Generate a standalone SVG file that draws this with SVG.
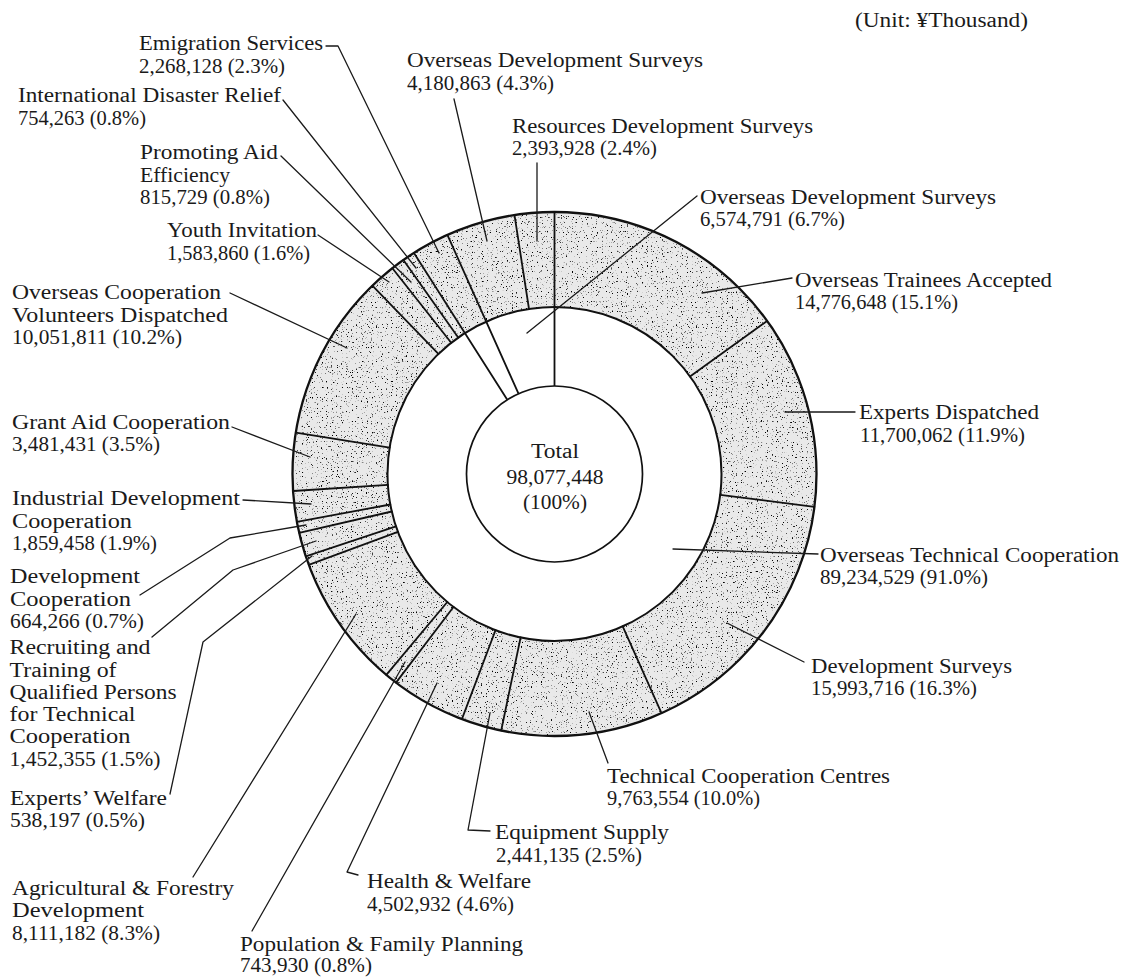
<svg xmlns="http://www.w3.org/2000/svg" width="1125" height="977" viewBox="0 0 1125 977">
<defs>
<style>
.t{font-family:"Liberation Serif","Times New Roman",serif;font-size:20px;fill:#1a1a1a}
.c{text-anchor:middle}
.ld{fill:none;stroke:#1a1a1a;stroke-width:1.3;stroke-linejoin:round;stroke-linecap:round}
.bd{stroke:#111;stroke-width:1.8;stroke-linecap:round}
.edge{fill:none;stroke:#111}
</style>
<!-- speckled screen for the outer ring -->
<filter id="grain" filterUnits="userSpaceOnUse" x="285" y="205" width="540" height="540">
<feTurbulence type="fractalNoise" baseFrequency="0.8" numOctaves="1" seed="7"/>
<feColorMatrix type="matrix" values="0 0 0 0 0  0 0 0 0 0  0 0 0 0 0  10 0 0 0 -6.3"/>
<feComposite in2="SourceAlpha" operator="in"/>
</filter>
</defs>
<rect width="1125" height="977" fill="#fff"/>

<!-- donut: outer ring (itemised budget), inner ring (main headings), centre total -->
<g id="ring">
<path d="M292.5 474A262 262 0 1 0 816.5 474A262 262 0 1 0 292.5 474ZM387.5 474A167 167 0 1 0 721.5 474A167 167 0 1 0 387.5 474Z" fill="#e9e9e9" fill-rule="evenodd"/>
<path d="M292.5 474A262 262 0 1 0 816.5 474A262 262 0 1 0 292.5 474ZM387.5 474A167 167 0 1 0 721.5 474A167 167 0 1 0 387.5 474Z" fill="#222" fill-rule="evenodd" filter="url(#grain)"/>
<circle class="edge" cx="554.5" cy="474" r="262" stroke-width="2.3"/>
<circle class="edge" cx="554.5" cy="474" r="167" stroke-width="2"/>
<!-- segment dividers -->
<g class="bd">
<line x1="554.5" y1="386" x2="554.5" y2="212"/>
<line x1="690.0" y1="376.4" x2="767.1" y2="320.9"/>
<line x1="720.2" y1="494.9" x2="814.4" y2="506.8"/>
<line x1="622.7" y1="626.4" x2="661.5" y2="713.1"/>
<line x1="520.6" y1="637.5" x2="501.2" y2="730.5"/>
<line x1="495.5" y1="630.2" x2="461.9" y2="719.1"/>
<line x1="453.5" y1="607.0" x2="396.0" y2="682.6"/>
<line x1="447.3" y1="602.0" x2="386.3" y2="674.9"/>
<line x1="397.9" y1="531.9" x2="308.7" y2="564.8"/>
<line x1="396.0" y1="526.4" x2="305.8" y2="556.3"/>
<line x1="391.8" y1="511.5" x2="299.2" y2="532.8"/>
<line x1="390.3" y1="504.5" x2="296.9" y2="521.9"/>
<line x1="387.9" y1="484.8" x2="293.1" y2="491.0"/>
<line x1="389.6" y1="447.7" x2="295.8" y2="432.7"/>
<line x1="438.4" y1="353.9" x2="372.4" y2="285.6"/>
<line x1="451.2" y1="342.8" x2="392.4" y2="268.2"/>
<line x1="458.2" y1="337.6" x2="403.4" y2="260.0"/>
<line x1="507.3" y1="399.7" x2="413.9" y2="252.9"/>
<line x1="518.5" y1="393.7" x2="447.4" y2="234.9"/>
<line x1="529.0" y1="309.0" x2="514.5" y2="215.1"/>
</g>
</g>

<g id="total">
<circle cx="554.5" cy="474" r="88" fill="#fff" stroke="#111" stroke-width="1.7"/>
<text class="t c" x="555" y="458" textLength="48" lengthAdjust="spacingAndGlyphs">Total</text>
<text class="t c" x="555" y="483.5" textLength="97" lengthAdjust="spacingAndGlyphs">98,077,448</text>
<text class="t c" x="555" y="508.5" textLength="64" lengthAdjust="spacingAndGlyphs">(100%)</text>
</g>

<!-- leader lines from labels into their segments -->
<g id="connectors" class="ld">
<polyline points="326,46 338,46 439,253"/>
<polyline points="283,100 416,268"/>
<polyline points="281,156 411,282"/>
<polyline points="318,235 389,282"/>
<polyline points="454,99 487,241"/>
<polyline points="537,163 537,241"/>
<polyline points="697,196 527,333"/>
<polyline points="792,278 702,293"/>
<polyline points="855,412 785,412"/>
<polyline points="818,554 673,549"/>
<polyline points="804,662 727,623"/>
<polyline points="608,763 589,712"/>
<polyline points="490,831 468,830 490,713"/>
<polyline points="358,875 347,872 437,683"/>
<polyline points="252,931 405,662"/>
<polyline points="193,877 356,614"/>
<polyline points="170,794 203,642 312,556"/>
<polyline points="152,637 233,570 316,541"/>
<polyline points="140,595 230,538 306,525"/>
<polyline points="243,500 311,504"/>
<polyline points="232,427 310,457"/>
<polyline points="230,293 347,348"/>
</g>

<g id="unit"><text class="t" x="855" y="27" textLength="173" lengthAdjust="spacingAndGlyphs">(Unit: ¥Thousand)</text></g>

<g id="lbl-emigration">
<text class="t" x="139" y="50" textLength="184" lengthAdjust="spacingAndGlyphs">Emigration Services</text>
<text class="t" x="139" y="72.5" textLength="146" lengthAdjust="spacingAndGlyphs">2,268,128 (2.3%)</text>
</g>
<g id="lbl-disaster">
<text class="t" x="18" y="102" textLength="263" lengthAdjust="spacingAndGlyphs">International Disaster Relief</text>
<text class="t" x="18" y="124.5" textLength="128" lengthAdjust="spacingAndGlyphs">754,263 (0.8%)</text>
</g>
<g id="lbl-efficiency">
<text class="t" x="140" y="159" textLength="138" lengthAdjust="spacingAndGlyphs">Promoting Aid</text>
<text class="t" x="140" y="181.5" textLength="90" lengthAdjust="spacingAndGlyphs">Efficiency</text>
<text class="t" x="140" y="204" textLength="130" lengthAdjust="spacingAndGlyphs">815,729 (0.8%)</text>
</g>
<g id="lbl-youth">
<text class="t" x="167" y="237" textLength="150" lengthAdjust="spacingAndGlyphs">Youth Invitation</text>
<text class="t" x="167" y="259.5" textLength="143" lengthAdjust="spacingAndGlyphs">1,583,860 (1.6%)</text>
</g>
<g id="lbl-ods-a">
<text class="t" x="407" y="67" textLength="296" lengthAdjust="spacingAndGlyphs">Overseas Development Surveys</text>
<text class="t" x="407" y="89.5" textLength="147" lengthAdjust="spacingAndGlyphs">4,180,863 (4.3%)</text>
</g>
<g id="lbl-rds">
<text class="t" x="512" y="133" textLength="301" lengthAdjust="spacingAndGlyphs">Resources Development Surveys</text>
<text class="t" x="512" y="155" textLength="145" lengthAdjust="spacingAndGlyphs">2,393,928 (2.4%)</text>
</g>
<g id="lbl-ods-b">
<text class="t" x="700" y="203.5" textLength="296" lengthAdjust="spacingAndGlyphs">Overseas Development Surveys</text>
<text class="t" x="700" y="226" textLength="145" lengthAdjust="spacingAndGlyphs">6,574,791 (6.7%)</text>
</g>
<g id="lbl-trainees">
<text class="t" x="795" y="286.5" textLength="257" lengthAdjust="spacingAndGlyphs">Overseas Trainees Accepted</text>
<text class="t" x="795" y="308.5" textLength="163" lengthAdjust="spacingAndGlyphs">14,776,648 (15.1%)</text>
</g>
<g id="lbl-experts">
<text class="t" x="859" y="419" textLength="180" lengthAdjust="spacingAndGlyphs">Experts Dispatched</text>
<text class="t" x="860" y="441.5" textLength="165" lengthAdjust="spacingAndGlyphs">11,700,062 (11.9%)</text>
</g>
<g id="lbl-otc">
<text class="t" x="820" y="562" textLength="299" lengthAdjust="spacingAndGlyphs">Overseas Technical Cooperation</text>
<text class="t" x="820" y="584" textLength="168" lengthAdjust="spacingAndGlyphs">89,234,529 (91.0%)</text>
</g>
<g id="lbl-devsurveys">
<text class="t" x="811" y="673" textLength="201" lengthAdjust="spacingAndGlyphs">Development Surveys</text>
<text class="t" x="811" y="695" textLength="166" lengthAdjust="spacingAndGlyphs">15,993,716 (16.3%)</text>
</g>
<g id="lbl-tcc">
<text class="t" x="607" y="783" textLength="283" lengthAdjust="spacingAndGlyphs">Technical Cooperation Centres</text>
<text class="t" x="607" y="805" textLength="153" lengthAdjust="spacingAndGlyphs">9,763,554 (10.0%)</text>
</g>
<g id="lbl-equipment">
<text class="t" x="495" y="839" textLength="174" lengthAdjust="spacingAndGlyphs">Equipment Supply</text>
<text class="t" x="496" y="861.5" textLength="146" lengthAdjust="spacingAndGlyphs">2,441,135 (2.5%)</text>
</g>
<g id="lbl-health">
<text class="t" x="367" y="888" textLength="164" lengthAdjust="spacingAndGlyphs">Health &amp; Welfare</text>
<text class="t" x="367" y="910.5" textLength="147" lengthAdjust="spacingAndGlyphs">4,502,932 (4.6%)</text>
</g>
<g id="lbl-population">
<text class="t" x="240" y="950.5" textLength="283" lengthAdjust="spacingAndGlyphs">Population &amp; Family Planning</text>
<text class="t" x="240" y="972" textLength="132" lengthAdjust="spacingAndGlyphs">743,930 (0.8%)</text>
</g>
<g id="lbl-agri">
<text class="t" x="12" y="895" textLength="222" lengthAdjust="spacingAndGlyphs">Agricultural &amp; Forestry</text>
<text class="t" x="12" y="917.3" textLength="132" lengthAdjust="spacingAndGlyphs">Development</text>
<text class="t" x="12" y="939.5" textLength="148" lengthAdjust="spacingAndGlyphs">8,111,182 (8.3%)</text>
</g>
<g id="lbl-welfare">
<text class="t" x="10" y="805" textLength="157" lengthAdjust="spacingAndGlyphs">Experts’ Welfare</text>
<text class="t" x="10" y="827" textLength="135" lengthAdjust="spacingAndGlyphs">538,197 (0.5%)</text>
</g>
<g id="lbl-recruit">
<text class="t" x="9.5" y="654" textLength="141" lengthAdjust="spacingAndGlyphs">Recruiting and</text>
<text class="t" x="9.5" y="676.5" textLength="107" lengthAdjust="spacingAndGlyphs">Training of</text>
<text class="t" x="9.5" y="698.5" textLength="167" lengthAdjust="spacingAndGlyphs">Qualified Persons</text>
<text class="t" x="9.5" y="721" textLength="126" lengthAdjust="spacingAndGlyphs">for Technical</text>
<text class="t" x="9.5" y="743.3" textLength="121" lengthAdjust="spacingAndGlyphs">Cooperation</text>
<text class="t" x="9.5" y="765.5" textLength="151" lengthAdjust="spacingAndGlyphs">1,452,355 (1.5%)</text>
</g>
<g id="lbl-devcoop">
<text class="t" x="10" y="583.3" textLength="130" lengthAdjust="spacingAndGlyphs">Development</text>
<text class="t" x="10" y="605.5" textLength="121" lengthAdjust="spacingAndGlyphs">Cooperation</text>
<text class="t" x="10" y="627.5" textLength="134" lengthAdjust="spacingAndGlyphs">664,266 (0.7%)</text>
</g>
<g id="lbl-industrial">
<text class="t" x="12" y="505" textLength="228" lengthAdjust="spacingAndGlyphs">Industrial Development</text>
<text class="t" x="12" y="527.5" textLength="120" lengthAdjust="spacingAndGlyphs">Cooperation</text>
<text class="t" x="12" y="550" textLength="145" lengthAdjust="spacingAndGlyphs">1,859,458 (1.9%)</text>
</g>
<g id="lbl-grant">
<text class="t" x="12" y="428.5" textLength="218" lengthAdjust="spacingAndGlyphs">Grant Aid Cooperation</text>
<text class="t" x="12" y="450.5" textLength="148" lengthAdjust="spacingAndGlyphs">3,481,431 (3.5%)</text>
</g>
<g id="lbl-ocvd">
<text class="t" x="12" y="299.3" textLength="209" lengthAdjust="spacingAndGlyphs">Overseas Cooperation</text>
<text class="t" x="12" y="321.7" textLength="216" lengthAdjust="spacingAndGlyphs">Volunteers Dispatched</text>
<text class="t" x="12" y="343.5" textLength="170" lengthAdjust="spacingAndGlyphs">10,051,811 (10.2%)</text>
</g>
</svg>
